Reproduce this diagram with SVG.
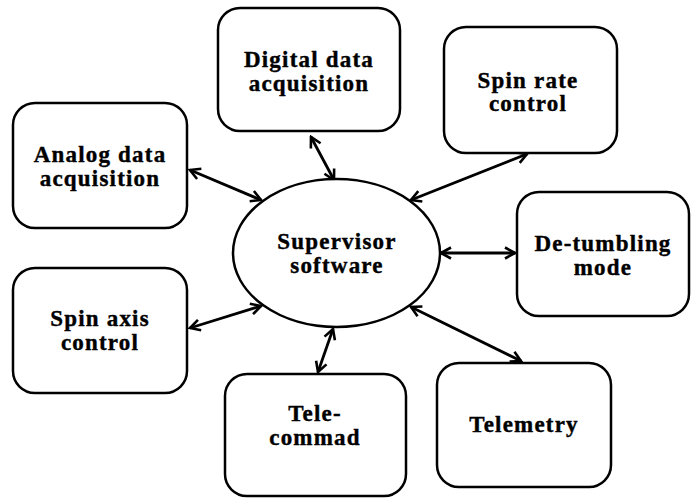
<svg xmlns="http://www.w3.org/2000/svg" width="694" height="498" viewBox="0 0 694 498">
<defs>
<style>
.box{fill:#fff;stroke:#000;stroke-width:2.5}
.lbl{font-family:"Liberation Serif","Times New Roman",serif;font-weight:bold;font-size:23px;letter-spacing:1.2px;text-anchor:middle;fill:#000;stroke:#000;stroke-width:0.4}
.con{stroke:#000;stroke-width:2.8;fill:none;marker-start:url(#ah);marker-end:url(#ah)}
</style>
<marker id="ah" viewBox="0 0 14 14" refX="12" refY="7" markerWidth="14" markerHeight="14" markerUnits="userSpaceOnUse" orient="auto-start-reverse">
<path d="M2,1.5 L12,7 L2,12.5" fill="none" stroke="#000" stroke-width="2.6"/>
</marker>
</defs>
<rect width="694" height="498" fill="#fff"/>
<g id="connectors">
<line class="con" x1="190" y1="170" x2="261" y2="200"/>
<line class="con" x1="311" y1="137" x2="334" y2="180"/>
<line class="con" x1="527" y1="154" x2="411" y2="200"/>
<line class="con" x1="441" y1="253" x2="515" y2="253"/>
<line class="con" x1="190" y1="328" x2="261" y2="306"/>
<line class="con" x1="318" y1="372" x2="333" y2="329"/>
<line class="con" x1="411" y1="307" x2="521" y2="361"/>
</g>
<g id="supervisor">
<ellipse class="box" cx="336.5" cy="253" rx="103.5" ry="74"/>
<text class="lbl" x="337" y="249">Supervisor</text>
<text class="lbl" x="337" y="273">software</text>
</g>
<g id="analog">
<rect class="box" x="13" y="103" width="174" height="125" rx="22"/>
<text class="lbl" x="100" y="162">Analog data</text>
<text class="lbl" x="100" y="186">acquisition</text>
</g>
<g id="digital">
<rect class="box" x="218" y="8" width="182" height="123" rx="22"/>
<text class="lbl" x="309" y="67">Digital data</text>
<text class="lbl" x="309" y="91">acquisition</text>
</g>
<g id="spinrate">
<rect class="box" x="444" y="27" width="173" height="126" rx="22"/>
<text class="lbl" x="528" y="88">Spin rate</text>
<text class="lbl" x="528" y="111">control</text>
</g>
<g id="detumbling">
<rect class="box" x="517" y="192" width="172" height="124" rx="22"/>
<text class="lbl" x="603" y="251">De-tumbling</text>
<text class="lbl" x="603" y="275">mode</text>
</g>
<g id="spinaxis">
<rect class="box" x="13" y="268" width="174" height="125" rx="22"/>
<text class="lbl" x="100" y="326">Spin axis</text>
<text class="lbl" x="100" y="350">control</text>
</g>
<g id="telecommand">
<rect class="box" x="225" y="374" width="181" height="122" rx="22"/>
<text class="lbl" x="315" y="421">Tele-</text>
<text class="lbl" x="315" y="445">commad</text>
</g>
<g id="telemetry">
<rect class="box" x="437" y="363" width="174" height="124" rx="22"/>
<text class="lbl" x="524" y="432">Telemetry</text>
</g>
</svg>
